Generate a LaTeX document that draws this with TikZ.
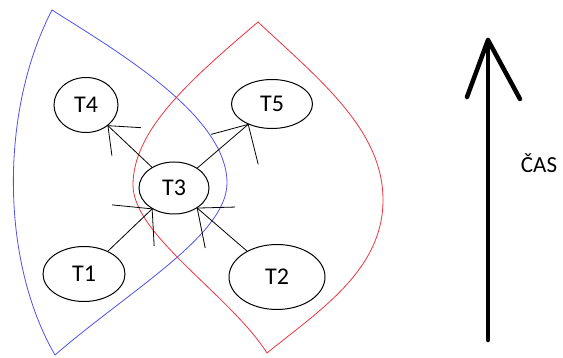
\documentclass[tikz,border=0pt]{standalone}
\usepackage{fontspec}
\setmainfont{Carlito}
\usetikzlibrary{shapes.geometric}
\definecolor{zoneblue}{RGB}{80,80,235}
\definecolor{zonered}{RGB}{240,50,60}
\tikzset{
  task/.style={ellipse, draw=black, line width=1pt, inner sep=0pt,
    font=\fontsize{24}{24}\selectfont},
  link/.style={draw=black, line width=0.8pt},
  barb/.style={draw=black, line width=0.8pt},
  zone/.style={line width=0.8pt},
  timeline/.style={draw=black, line width=4.5pt, line cap=round, line join=round},
}
\begin{document}
\begin{tikzpicture}[x=1pt, y=-1pt]
\useasboundingbox (0,0) rectangle (563,358);
% blue zone
\draw[zone, zoneblue] (52,10) .. controls (115,50) and (227,115) .. (227,183)
  .. controls (227,235) and (130,290) .. (55,355)
  .. controls (0,260) and (0,110) .. (52,10) -- cycle;
% red zone
\draw[zone, zonered] (258,22) .. controls (320,80) and (383,130) .. (383,200)
  .. controls (383,270) and (320,310) .. (267,353)
  .. controls (230,295) and (133,235) .. (133,185)
  .. controls (133,130) and (190,80) .. (258,22) -- cycle;
% tasks
\node[task, minimum width=64pt, minimum height=55pt] (t4) at (86,105) {T4};
\node[task, minimum width=81pt, minimum height=49pt] (t5) at (272,104) {T5};
\node[task, minimum width=70pt, minimum height=52pt] (t3) at (174,188) {T3};
\node[task, minimum width=82pt, minimum height=55pt] (t1) at (84,274) {T1};
\node[task, minimum width=96pt, minimum height=65pt] (t2) at (277,277) {T2};
% connectors
\draw[link] (t3) -- coordinate[pos=1] (h4) (t4);
\draw[link] (t3) -- coordinate[pos=1] (h5) (t5);
\draw[link] (t1) -- coordinate[pos=1] (h31) (t3);
\draw[link] (t2) -- coordinate[pos=1] (h32) (t3);
% hand-drawn arrowheads
\draw[barb] (h4) -- ++(33,2);
\draw[barb] (h4) -- ++(4,30);
\draw[barb] (h5) -- ++(-37,10);
\draw[barb] (h5) -- ++(10,40);
\draw[barb] (h31) -- ++(-40,-4);
\draw[barb] (h31) -- ++(2,37);
\draw[barb] (h32) -- ++(38,-1);
\draw[barb] (h32) -- ++(8,40);
% time arrow
\coordinate (tb) at (488,340);
\coordinate (tt) at (488,40);
\coordinate (tl) at (467,97);
\coordinate (tr) at (520,99);
\draw[timeline] (tb) -- (tt);
\draw[timeline] (tl) -- (tt) -- (tr);
\node[font=\fontsize{23}{23}\selectfont] (cas) at (539,163) {ČAS};
\end{tikzpicture}
\end{document}
